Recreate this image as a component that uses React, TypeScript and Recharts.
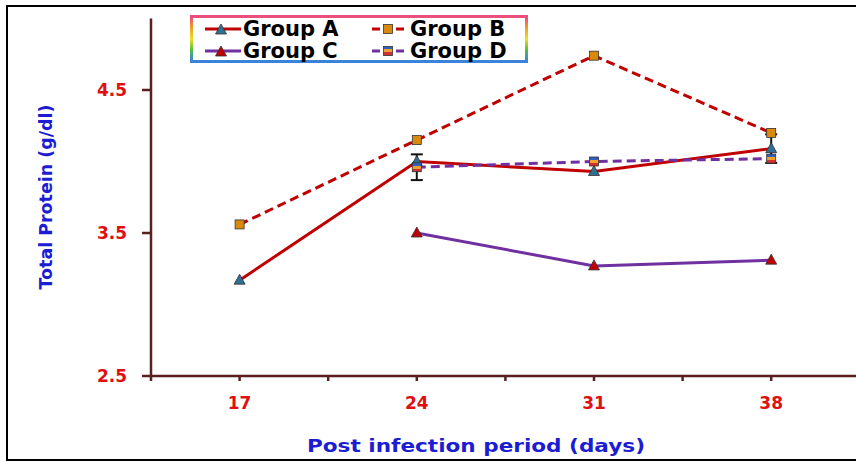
import React from 'react';
import { LineChart, Line, XAxis, YAxis, Legend, ErrorBar, Label } from 'recharts';

const days = [17, 24, 31, 38];
const groupA = [3.17, 4.0, 3.93, 4.09];
const groupB = [3.56, 4.15, 4.74, 4.2];
const groupC = [null, 3.5, 3.27, 3.31];
const groupD = [null, 3.96, 4.0, 4.02];
const errA = [null, null, null, 0.1];
const errD = [null, 0.09, null, null];

const xTicks = [13.5, 17, 20.5, 24, 27.5, 31, 34.5, 38];
const yTicks = [2.5, 3.5, 4.5];

const data = days.map((d, i) => ({
  day: d,
  a: groupA[i],
  b: groupB[i],
  c: groupC[i],
  d: groupD[i],
  errA: errA[i],
  errD: errD[i],
}));

const FONT = '"DejaVu Sans", Arial, sans-serif';
const RED = '#c00000';
const PURPLE = '#7030a0';
const AXIS = '#5a1f1f';
const TICK_RED = '#e01010';
const BLUE = '#1c1cd2';

const triPath = (cx: number, cy: number) =>
  `M${cx},${cy - 6} L${cx + 5.5},${cy + 4} L${cx - 5.5},${cy + 4} Z`;

const triDot = (fill: string) => (props: any) => {
  const { cx, cy, index } = props;
  if (cx == null || cy == null || Number.isNaN(cy)) return <g key={`t${index}`} />;
  return <path key={`t${index}`} d={triPath(cx, cy)} fill={fill} stroke="#333" strokeWidth={0.8} />;
};

const sqDot = (fill: string) => (props: any) => {
  const { cx, cy, index } = props;
  if (cx == null || cy == null || Number.isNaN(cy)) return <g key={`s${index}`} />;
  return (
    <rect key={`s${index}`} x={cx - 4.5} y={cy - 4.5} width={9} height={9} fill={fill} stroke="#333" strokeWidth={0.8} />
  );
};

// striped fill used by the Group D markers
const stripeStops = [
  <stop key="1" offset="0%" stopColor="#2f5fbf" />,
  <stop key="2" offset="33%" stopColor="#2f5fbf" />,
  <stop key="3" offset="33%" stopColor="#f0a030" />,
  <stop key="4" offset="66%" stopColor="#f0a030" />,
  <stop key="5" offset="66%" stopColor="#d03030" />,
  <stop key="6" offset="100%" stopColor="#d03030" />,
];

const legendItems = [
  { name: 'Group A', color: RED, dash: false, marker: 'tri', fill: '#2f6f91' },
  { name: 'Group B', color: RED, dash: true, marker: 'sq', fill: '#d98a0c' },
  { name: 'Group C', color: PURPLE, dash: false, marker: 'tri', fill: RED },
  { name: 'Group D', color: PURPLE, dash: true, marker: 'sq', fill: 'url(#dStripeL)' },
];

function LegendBox() {
  return (
    <div
      style={{
        width: 332,
        height: 42,
        border: '3px solid',
        borderImage: 'linear-gradient(to bottom, #ea4c80, #f0a020, #eee020, #50c040, #3a80e0) 1',
        display: 'grid',
        gridTemplateColumns: '167px 165px',
        gridTemplateRows: '22px 22px',
        alignItems: 'center',
        fontFamily: FONT,
        fontWeight: 'bold',
        fontSize: 21,
        color: '#000',
        background: '#fff',
        whiteSpace: 'nowrap',
      }}
    >
      <svg width={0} height={0} style={{ position: 'absolute' }}>
        <defs>
          <linearGradient id="dStripeL" x1="0" y1="0" x2="0" y2="1">
            {stripeStops}
          </linearGradient>
        </defs>
      </svg>
      {legendItems.map((it) => (
        <div key={it.name} style={{ display: 'flex', alignItems: 'center', height: 22, lineHeight: '22px' }}>
          <svg width={40} height={14} style={{ marginLeft: 10, flex: 'none' }}>
            <line x1={2} y1={7} x2={38} y2={7} stroke={it.color} strokeWidth={3} strokeDasharray={it.dash ? '8 4' : undefined} />
            {it.marker === 'tri' ? (
              <path d={triPath(18, 8)} fill={it.fill} stroke="#333" strokeWidth={0.8} />
            ) : (
              <rect x={13.5} y={2.5} width={9} height={9} fill={it.fill} stroke="#333" strokeWidth={0.8} />
            )}
          </svg>
          <span>{it.name}</span>
        </div>
      ))}
    </div>
  );
}

export default function App() {
  return (
    <div style={{ position: 'fixed', left: 0, top: 0, width: 856, height: 461, overflow: 'hidden', background: '#fff' }}>
      <div
        style={{
          position: 'absolute',
          left: 6,
          top: 5,
          width: 900,
          height: 452,
          border: '2px solid #000',
        }}
      />
      <LineChart width={856} height={461} data={data} margin={{ top: 18.5, right: 0, left: 0, bottom: 0 }}>
        <defs>
          <linearGradient id="dStripe" x1="0" y1="0" x2="0" y2="1">
            {stripeStops}
          </linearGradient>
        </defs>
        <XAxis
          type="number"
          dataKey="day"
          domain={[13.5, 41.35]}
          ticks={xTicks}
          interval={0}
          height={85}
          allowDataOverflow
          stroke={AXIS}
          strokeWidth={2.5}
          tickSize={5}
          tickMargin={16}
          tickFormatter={(v: number) => (days.includes(v) ? String(v) : '')}
          tick={{ fill: TICK_RED, fontSize: 17, fontWeight: 'bold', fontFamily: FONT }}
        >
          <Label
            content={() => (
              <text
                x={476}
                y={452}
                textAnchor="middle"
                textLength={338}
                lengthAdjust="spacingAndGlyphs"
                fill={BLUE}
                fontSize={18}
                fontWeight="bold"
                fontFamily={FONT}
              >
                Post infection period (days)
              </text>
            )}
          />
        </XAxis>
        <YAxis
          type="number"
          domain={[2.5, 5]}
          ticks={yTicks}
          width={151}
          allowDataOverflow
          stroke={AXIS}
          strokeWidth={2.5}
          tickSize={9}
          tickMargin={15}
          tickFormatter={(v: number) => v.toFixed(1)}
          tick={{ fill: TICK_RED, fontSize: 17, fontWeight: 'bold', fontFamily: FONT }}
        >
          <Label
            content={() => (
              <text
                x={46}
                y={197}
                transform="rotate(-90, 46, 197)"
                textAnchor="middle"
                dominantBaseline="central"
                textLength={185}
                lengthAdjust="spacingAndGlyphs"
                fill={BLUE}
                fontSize={17}
                fontWeight="bold"
                fontFamily={FONT}
              >
                Total Protein (g/dl)
              </text>
            )}
          />
        </YAxis>
        <Legend
          layout="horizontal"
          verticalAlign="middle"
          align="center"
          wrapperStyle={{ top: 15, left: 190, width: 338, height: 48 }}
          content={() => <LegendBox />}
        />
        <Line
          dataKey="a"
          name="Group A"
          stroke={RED}
          strokeWidth={3}
          dot={triDot('#2f6f91')}
          activeDot={false}
          isAnimationActive={false}
        >
          <ErrorBar dataKey="errA" direction="y" width={6} strokeWidth={2} stroke="#111" />
        </Line>
        <Line
          dataKey="b"
          name="Group B"
          stroke={RED}
          strokeWidth={3}
          strokeDasharray="9 5"
          dot={sqDot('#d98a0c')}
          activeDot={false}
          isAnimationActive={false}
        />
        <Line
          dataKey="c"
          name="Group C"
          stroke={PURPLE}
          strokeWidth={3}
          dot={triDot(RED)}
          activeDot={false}
          isAnimationActive={false}
        />
        <Line
          dataKey="d"
          name="Group D"
          stroke={PURPLE}
          strokeWidth={3}
          strokeDasharray="9 5"
          dot={sqDot('url(#dStripe)')}
          activeDot={false}
          isAnimationActive={false}
        >
          <ErrorBar dataKey="errD" direction="y" width={6} strokeWidth={2} stroke="#111" />
        </Line>
      </LineChart>
    </div>
  );
}
